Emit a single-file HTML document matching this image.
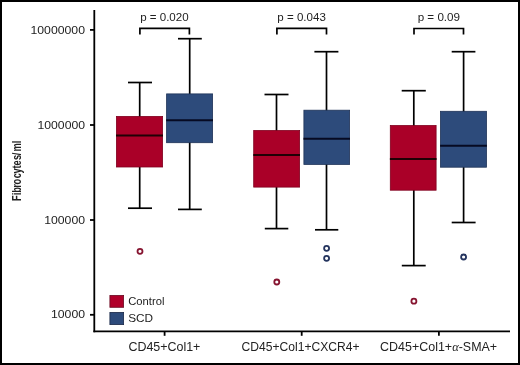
<!DOCTYPE html>
<html><head><meta charset="utf-8">
<style>
html,body{margin:0;padding:0;background:#fff;}
body{width:520px;height:365px;overflow:hidden;}
svg{display:block;will-change:transform;}
text{-webkit-font-smoothing:antialiased;}

text{font-family:"Liberation Sans",sans-serif;fill:#222;}
</style></head>
<body>
<svg width="520" height="365" viewBox="0 0 520 365">
<rect x="0" y="0" width="520" height="365" fill="#fff"/>
<!-- axes -->
<g stroke="#000" stroke-width="1.8" fill="none">
<line x1="94.3" y1="10" x2="94.3" y2="332.2"/>
<line x1="93.4" y1="331.3" x2="510" y2="331.3"/>
<line x1="90" y1="29.9" x2="94" y2="29.9"/>
<line x1="90" y1="125" x2="94" y2="125"/>
<line x1="90" y1="220" x2="94" y2="220"/>
<line x1="90" y1="314.8" x2="94" y2="314.8"/>
<line x1="164.6" y1="331" x2="164.6" y2="335.8"/>
<line x1="301.7" y1="331" x2="301.7" y2="335.8"/>
<line x1="438.9" y1="331" x2="438.9" y2="335.8"/>
</g>
<!-- y tick labels -->
<g font-size="11" text-anchor="end">
<text x="85" y="33.6" textLength="54.5" lengthAdjust="spacingAndGlyphs">10000000</text>
<text x="85" y="128.6" textLength="47.5" lengthAdjust="spacingAndGlyphs">1000000</text>
<text x="85" y="223.6" textLength="40.8" lengthAdjust="spacingAndGlyphs">100000</text>
<text x="85" y="318.4" textLength="34" lengthAdjust="spacingAndGlyphs">10000</text>
</g>
<!-- y title -->
<text transform="translate(20.9,0) rotate(-90) scale(0.70,1)" font-size="13.2" font-weight="bold" x="-287.02 -278.83 -275.48 -268.33 -263.53 -254.81 -247.90 -240.63 -236.49 -228.63 -221.76 -216.61 -204.47" y="0">Fibrocytes/ml</text>

<!-- brackets -->
<g stroke="#000" stroke-width="1.7" fill="none">
<polyline points="139.9,34.6 139.9,28.4 189.4,28.4 189.4,34.6"/>
<polyline points="276.9,34.6 276.9,28.4 326.5,28.4 326.5,34.6"/>
<polyline points="414,34.6 414,28.5 463.5,28.5 463.5,34.6"/>
</g>
<g font-size="10.8" text-anchor="middle">
<text x="164.4" y="21" textLength="48.5" lengthAdjust="spacingAndGlyphs">p = 0.020</text>
<text x="301.6" y="21" textLength="48.5" lengthAdjust="spacingAndGlyphs">p = 0.043</text>
<text x="438.85" y="21" textLength="42.4" lengthAdjust="spacingAndGlyphs">p = 0.09</text>
</g>

<!-- whiskers -->
<g stroke="#000" stroke-width="1.7" fill="none">
<!-- G1 R -->
<line x1="139.7" y1="82.5" x2="139.7" y2="208.2"/>
<line x1="128" y1="82.5" x2="152" y2="82.5"/>
<line x1="128" y1="208.2" x2="152" y2="208.2"/>
<!-- G1 B -->
<line x1="189.7" y1="38.7" x2="189.7" y2="209.4"/>
<line x1="178" y1="38.7" x2="201.8" y2="38.7"/>
<line x1="178" y1="209.4" x2="201.8" y2="209.4"/>
<!-- G2 R -->
<line x1="276.5" y1="94.5" x2="276.5" y2="228.6"/>
<line x1="264.5" y1="94.5" x2="288.5" y2="94.5"/>
<line x1="264.8" y1="228.6" x2="288.3" y2="228.6"/>
<!-- G2 B -->
<line x1="326.5" y1="51.7" x2="326.5" y2="229.8"/>
<line x1="314.4" y1="51.7" x2="338.4" y2="51.7"/>
<line x1="315" y1="229.8" x2="338.3" y2="229.8"/>
<!-- G3 R -->
<line x1="413.8" y1="90.7" x2="413.8" y2="265.6"/>
<line x1="401.7" y1="90.7" x2="425.8" y2="90.7"/>
<line x1="401.8" y1="265.6" x2="425.7" y2="265.6"/>
<!-- G3 B -->
<line x1="463.6" y1="51.7" x2="463.6" y2="222.5"/>
<line x1="451.7" y1="51.7" x2="475.4" y2="51.7"/>
<line x1="451.7" y1="222.5" x2="475.6" y2="222.5"/>
</g>

<!-- boxes -->
<g stroke-width="0.8">
<rect x="116.4" y="116.4" width="46.2" height="50.6" fill="#AA0028" stroke="#80001E"/>
<rect x="166.6" y="93.9" width="46.0" height="48.8" fill="#2D4B7B" stroke="#1E3358"/>
<rect x="253.7" y="130.5" width="45.9" height="56.6" fill="#AA0028" stroke="#80001E"/>
<rect x="303.9" y="110.2" width="45.7" height="54.2" fill="#2D4B7B" stroke="#1E3358"/>
<rect x="390.3" y="125.5" width="45.8" height="64.7" fill="#AA0028" stroke="#80001E"/>
<rect x="440.5" y="111.3" width="46.0" height="55.9" fill="#2D4B7B" stroke="#1E3358"/>
</g>
<!-- medians -->
<g stroke-width="2">
<line x1="116" y1="135.6" x2="163" y2="135.6" stroke="#200005"/>
<line x1="166.2" y1="120.2" x2="213" y2="120.2" stroke="#060a22"/>
<line x1="253.3" y1="155.1" x2="300" y2="155.1" stroke="#200005"/>
<line x1="303.5" y1="138.8" x2="350" y2="138.8" stroke="#060a22"/>
<line x1="389.9" y1="159.1" x2="436.5" y2="159.1" stroke="#200005"/>
<line x1="440.1" y1="145.7" x2="486.9" y2="145.7" stroke="#060a22"/>
</g>
<!-- outliers -->
<g fill="none" stroke-width="1.8">
<circle cx="140" cy="251.3" r="2.5" stroke="#861430"/>
<circle cx="276.8" cy="282" r="2.5" stroke="#861430"/>
<circle cx="413.9" cy="301.2" r="2.5" stroke="#861430"/>
<circle cx="326.6" cy="248.3" r="2.5" stroke="#24345E"/>
<circle cx="326.6" cy="258.3" r="2.5" stroke="#24345E"/>
<circle cx="463.6" cy="257" r="2.5" stroke="#24345E"/>
</g>

<!-- legend -->
<rect x="109.9" y="295.4" width="13.7" height="11.9" fill="#B0002A" stroke="#6A0A22" stroke-width="0.8"/>
<rect x="109.9" y="312.4" width="13.7" height="12.2" fill="#2D4B7B" stroke="#1A2848" stroke-width="0.8"/>
<g font-size="11.8">
<text x="128.2" y="304.7" textLength="36.2" lengthAdjust="spacingAndGlyphs">Control</text>
<text x="128.2" y="321.9">SCD</text>
</g>

<!-- x labels -->
<g font-size="12.4" text-anchor="middle">
<text x="164.4" y="350.9" textLength="72" lengthAdjust="spacingAndGlyphs">CD45+Col1+</text>
<text x="300.6" y="350.9" textLength="118" lengthAdjust="spacingAndGlyphs">CD45+Col1+CXCR4+</text>
<text x="438.6" y="350.9" textLength="117" lengthAdjust="spacingAndGlyphs">CD45+Col1+<tspan font-family="Liberation Serif" font-style="italic">α</tspan>-SMA+</text>
</g>

<!-- border -->
<rect x="1" y="1" width="518" height="363" fill="none" stroke="#000" stroke-width="2"/>
</svg>
</body></html>
